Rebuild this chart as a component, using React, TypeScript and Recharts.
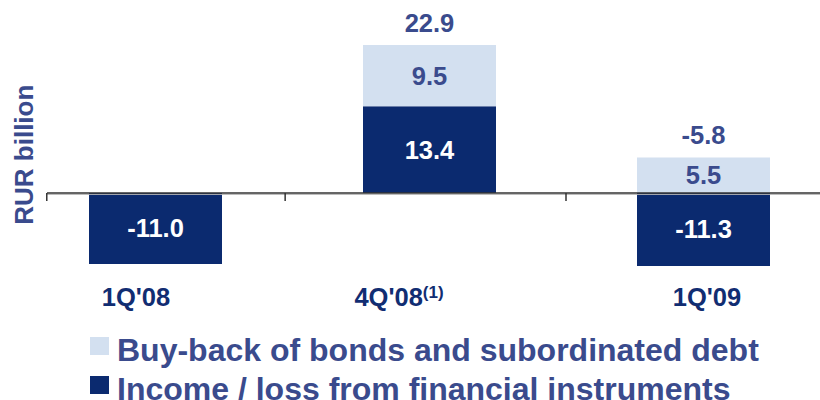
import React from 'react';
import { BarChart, Bar, XAxis, YAxis, ReferenceLine, LabelList } from 'recharts';

const categories = ["1Q'08", "4Q'08", "1Q'09"];
const footnotes = ['', '(1)', ''];
const incomeLoss = [-11.0, 13.4, -11.3];
const buyBack = [null, 9.5, 5.5];
const totals = [null, 22.9, -5.8];
const seriesNames = ['Buy-back of bonds and subordinated debt', 'Income / loss from financial instruments'];
// tick marks on the zero line, in category units (0 = first category centre)
const tickMarks = [-0.395, 0.475, 1.5];

const DARK = '#0b2a6f';
const LIGHT = '#d3e0f0';
const TEXT = '#3a4b8d';
const AXIS_TEXT = '#112d72';
const FONT = '"Liberation Sans", Arial, sans-serif';
const PAD = { left: -29, right: -20 };

// hand-placed category labels in the original slide
const labelNudge = [-19, -30, 4];

const data = categories.map((name, i) => ({
  name,
  income: incomeLoss[i],
  buyback: buyBack[i],
  total: totals[i],
}));

const fmt = (v: any) => (v == null ? '' : Number(v).toFixed(1));

function CategoryTick(props: any) {
  const { x, y, payload, index } = props;
  const i = categories.indexOf(payload.value);
  const note = footnotes[i];
  return (
    <text
      x={x + labelNudge[i >= 0 ? i : index]}
      y={y + 28}
      textAnchor="middle"
      fill={AXIS_TEXT}
      fontFamily={FONT}
      fontWeight="bold"
      fontSize={25.5}
    >
      {payload.value}
      {note ? (
        <tspan dy={-8} fontSize={17}>
          {note}
        </tspan>
      ) : null}
    </text>
  );
}

function TotalLabel(props: any) {
  const { x, y, width, value } = props;
  if (value == null || value === '') return null;
  return (
    <text
      x={x + width / 2}
      y={y - 13}
      textAnchor="middle"
      fill={TEXT}
      fontFamily={FONT}
      fontWeight="bold"
      fontSize={25.5}
    >
      {Number(value).toFixed(1)}
    </text>
  );
}

function YLabel(props: any) {
  const { viewBox } = props;
  const cx = viewBox.x + 33;
  const cy = viewBox.y + viewBox.height / 2 + 7;
  return (
    <text
      x={cx}
      y={cy}
      transform={`rotate(-90, ${cx}, ${cy})`}
      textAnchor="middle"
      fill={TEXT}
      fontFamily={FONT}
      fontWeight="bold"
      fontSize={26}
    >
      RUR billion
    </text>
  );
}

// zero line with its small tick marks
function ZeroAxis(props: any) {
  const { x1, x2, y1 } = props;
  const start = x1 + PAD.left;
  const band = (x2 - PAD.right - start) / categories.length;
  return (
    <g>
      <line x1={x1} x2={x2} y1={y1 + 1.5} y2={y1 + 1.5} stroke="#b5b5b5" strokeWidth={1} />
      <line x1={x1} x2={x2} y1={y1} y2={y1} stroke="#333" strokeWidth={1.5} />
      {tickMarks.map((t) => {
        const tx = start + band * (t + 0.5);
        return <line key={t} x1={tx} x2={tx} y1={y1} y2={y1 + 8} stroke="#333" strokeWidth={1.5} />;
      })}
    </g>
  );
}

const legendColors = [LIGHT, DARK];

export default function App() {
  return (
    <div style={{ position: 'absolute', left: 0, top: 0, width: 820, height: 400, background: '#fff', fontFamily: FONT }}>
      <BarChart
        width={820}
        height={400}
        data={data}
        stackOffset="sign"
        margin={{ top: 25, right: 0, left: 0, bottom: 89.6 }}
      >
        <XAxis
          dataKey="name"
          axisLine={false}
          tickLine={false}
          height={40}
          padding={PAD}
          tick={<CategoryTick />}
          interval={0}
        />
        <YAxis
          domain={[-12, 26]}
          width={47}
          tick={false}
          axisLine={false}
          tickLine={false}
          allowDataOverflow
          label={YLabel}
        />
        <ReferenceLine y={0} shape={<ZeroAxis />} />
        <Bar dataKey="income" stackId="a" fill={DARK} barSize={133} isAnimationActive={false}>
          <LabelList
            dataKey="income"
            position="center"
            formatter={fmt}
            fill="#ffffff"
            fontFamily={FONT}
            fontWeight="bold"
            fontSize={25.5}
          />
        </Bar>
        <Bar dataKey="buyback" stackId="a" fill={LIGHT} barSize={133} isAnimationActive={false}>
          <LabelList
            dataKey="buyback"
            position="center"
            formatter={fmt}
            fill={TEXT}
            fontFamily={FONT}
            fontWeight="bold"
            fontSize={25.5}
          />
          <LabelList dataKey="total" content={<TotalLabel />} />
        </Bar>
      </BarChart>
      {seriesNames.map((name, i) => (
        <div
          key={name}
          style={{
            position: 'absolute',
            left: 90,
            top: 332 + i * 39,
            height: 36,
            lineHeight: '36px',
            display: 'flex',
            alignItems: 'flex-start',
            whiteSpace: 'nowrap',
          }}
        >
          <div style={{ width: 19, height: 18, marginTop: 5, background: legendColors[i] }} />
          <div style={{ marginLeft: 8, color: TEXT, fontWeight: 'bold', fontSize: 32, lineHeight: '36px' }}>{name}</div>
        </div>
      ))}
    </div>
  );
}
